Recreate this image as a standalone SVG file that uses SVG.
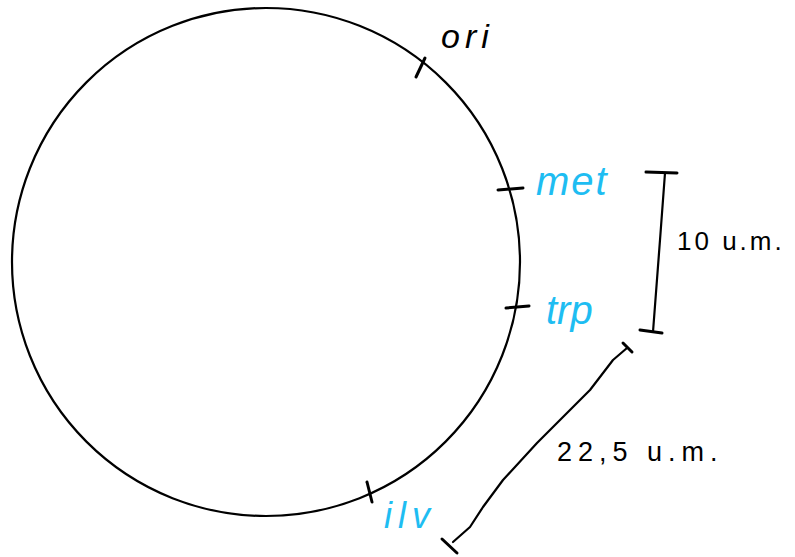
<svg xmlns="http://www.w3.org/2000/svg" width="795" height="557" viewBox="0 0 795 557">
<style>
.ln{fill:none;stroke:#000;stroke-width:2.2;stroke-linecap:round;stroke-linejoin:round}
.tk{fill:none;stroke:#000;stroke-width:3;stroke-linecap:round}
.blk{font-family:"Liberation Sans","DejaVu Sans",sans-serif;fill:#000}
.cy{font-family:"Liberation Sans","DejaVu Sans",sans-serif;font-style:italic;fill:#1ebdf2}
</style>
<rect width="795" height="557" fill="#fff"/>
<g id="chromosome">
<circle cx="266" cy="262" r="254" class="ln"/>
</g>
<g id="ori">
<line x1="416" y1="77" x2="425" y2="58" class="tk"/>
<text x="441" y="48" class="blk" font-size="34" font-style="italic" letter-spacing="5">ori</text>
</g>
<g id="met">
<line x1="498" y1="190" x2="523" y2="188" class="tk"/>
<text x="536" y="195" class="cy" font-size="40" letter-spacing="2">met</text>
</g>
<g id="trp">
<line x1="506" y1="308" x2="529" y2="306" class="tk"/>
<text x="546" y="324" class="cy" font-size="40">trp</text>
</g>
<g id="ilv">
<line x1="367" y1="482" x2="372" y2="502" class="tk"/>
<text x="384" y="528" class="cy" font-size="36" letter-spacing="6">ilv</text>
</g>
<g id="connectors">
<line x1="646" y1="172" x2="677" y2="173" class="tk"/>
<path d="M665 173 L660 240 L653 332" class="ln"/>
<line x1="640" y1="330" x2="662" y2="333" class="tk"/>
<polyline points="453,542 470,527 483,507 503,480 537,443 570,410 590,390 613,360 627,348" class="ln"/>
<line x1="442" y1="539" x2="457" y2="553" class="tk"/>
<line x1="623" y1="343" x2="632" y2="352" class="tk"/>
</g>
<g id="label-10">
<text x="677" y="250" class="blk" font-size="26" letter-spacing="3">10 u.m.</text>
</g>
<g id="label-22">
<text x="557" y="461" class="blk" font-size="27" letter-spacing="6">22,5 u.m.</text>
</g>
</svg>
